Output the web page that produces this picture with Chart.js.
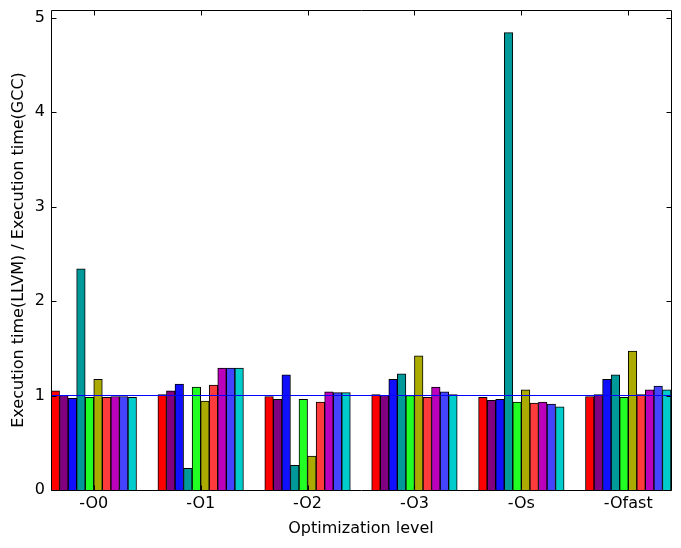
<!DOCTYPE html>
<html>
<head>
<meta charset="utf-8">
<script src="https://cdn.jsdelivr.net/npm/chart.js@4/dist/chart.umd.min.js"></script>
<style>
html, body { margin: 0; padding: 0; background: #ffffff; }
#wrap { width: 681px; height: 548px; }
</style>
</head>
<body>
<div id="wrap"><canvas id="c" width="681" height="548"></canvas></div>
<script>
// ---- data ----
const groups = ["-O0", "-O1", "-O2", "-O3", "-Os", "-Ofast"];
const seriesColors = ["#ff0000", "#800080", "#1010ff", "#009999", "#22ff22",
                      "#aaaa00", "#ff3b3b", "#bb00bb", "#4444ff", "#00cccc"];
const s1  = [1.05, 1.01, 0.99, 1.01, 0.98, 0.99];
const s2  = [1.00, 1.05, 0.96, 1.00, 0.95, 1.01];
const s3  = [0.97, 1.12, 1.22, 1.17, 0.96, 1.17];
const s4  = [2.34, 0.23, 0.26, 1.23, 4.84, 1.22];
const s5  = [0.98, 1.09, 0.96, 1.00, 0.93, 0.98];
const s6  = [1.17, 0.94, 0.36, 1.42, 1.06, 1.47];
const s7  = [0.98, 1.11, 0.93, 0.98, 0.92, 1.01];
const s8  = [0.99, 1.29, 1.04, 1.09, 0.93, 1.06];
const s9  = [0.99, 1.29, 1.03, 1.04, 0.91, 1.10];
const s10 = [0.98, 1.29, 1.03, 1.01, 0.88, 1.06];
const series = [s1, s2, s3, s4, s5, s6, s7, s8, s9, s10];
const yTicks = [0, 1, 2, 3, 4, 5];
const baseline = 1;
const yMax = 5.08;

// bar geometry in data units (group spacing 1)
const barW = 0.08;
const nSeries = series.length;
const xMax = (groups.length - 1) + nSeries * barW;

const datasets = [];
datasets.push({
  type: 'line',
  data: [{x: 0, y: baseline}, {x: xMax, y: baseline}],
  borderColor: '#0000ff',
  borderWidth: 1,
  pointRadius: 0,
  order: 0
});
series.forEach((vals, si) => {
  datasets.push({
    type: 'bar',
    data: vals.map((v, gi) => ({x: gi + barW / 2 + si * barW, y: v})),
    backgroundColor: seriesColors[si],
    borderColor: '#000000',
    borderWidth: 1,
    grouped: false,
    barPercentage: 1,
    categoryPercentage: 1,
    order: 1
  });
});

const frame = {
  id: 'frame',
  afterDatasetsDraw(chart) {
    const {ctx, chartArea: a, scales: {x, y}} = chart;
    ctx.save();
    ctx.strokeStyle = '#000000';
    ctx.lineWidth = 1;
    const L = Math.round(a.left) + 0.5, R = Math.round(a.right) + 0.5;
    const T = Math.round(a.top) + 0.5, B = Math.round(a.bottom) + 0.5;
    ctx.beginPath();
    ctx.rect(L, T, R - L, B - T);
    const tl = 5;
    yTicks.forEach(v => {
      const py = Math.round(y.getPixelForValue(v)) + 0.5;
      ctx.moveTo(L, py); ctx.lineTo(L + tl, py);
      ctx.moveTo(R, py); ctx.lineTo(R - tl, py);
    });
    groups.forEach((g, gi) => {
      const px = Math.round(x.getPixelForValue(gi + nSeries * barW / 2)) + 0.5;
      ctx.moveTo(px, B); ctx.lineTo(px, B - tl);
      ctx.moveTo(px, T); ctx.lineTo(px, T + tl);
    });
    ctx.stroke();
    ctx.restore();
  }
};

const font = {family: "'DejaVu Sans'", size: 16};

new Chart(document.getElementById('c'), {
  data: {datasets},
  options: {
    responsive: false,
    animation: false,
    events: [],
    layout: {padding: {top: 10, right: 10, left: 0, bottom: 0}},
    plugins: {legend: {display: false}, tooltip: {enabled: false}},
    scales: {
      x: {
        type: 'linear',
        offset: false,
        min: 0,
        max: xMax,
        grid: {display: false, drawTicks: false},
        border: {display: false},
        afterBuildTicks(s) {
          s.ticks = groups.map((g, gi) => ({value: gi + nSeries * barW / 2}));
        },
        afterFit(s) { s.height = 58; s.paddingLeft = 0; s.paddingRight = 0; },
        ticks: {
          autoSkip: false, maxRotation: 0, minRotation: 0,
          color: '#000000', font, padding: 4,
          callback: (v, i) => groups[i]
        },
        title: {display: true, text: 'Optimization level', color: '#000000', font,
                padding: {top: 0, bottom: 10}}
      },
      y: {
        type: 'linear',
        min: 0,
        max: yMax,
        grid: {display: false, drawTicks: false},
        border: {display: false},
        afterBuildTicks(s) { s.ticks = yTicks.map(v => ({value: v})); },
        afterFit(s) { s.width = 51; s.paddingTop = 0; s.paddingBottom = 0; },
        ticks: {color: '#000000', font, padding: 6, callback: v => String(v)},
        title: {display: true, text: 'Execution time(LLVM) / Execution time(GCC)',
                color: '#000000', font, padding: {top: 9, bottom: 0}}
      }
    }
  },
  plugins: [frame]
});
</script>
</body>
</html>
